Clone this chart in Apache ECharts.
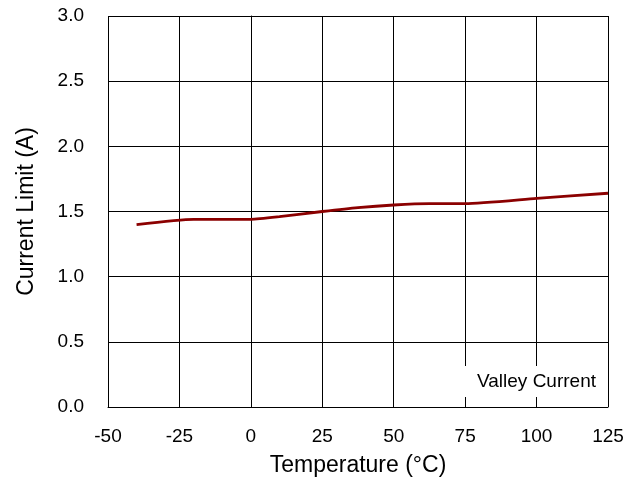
<!DOCTYPE html>
<html>
<head>
<meta charset="utf-8">
<script src="https://cdn.jsdelivr.net/npm/echarts@6/dist/echarts.min.js"></script>
<style>html,body{margin:0;padding:0;background:#fff}#c{width:642px;height:486px}</style>
</head>
<body>
<div id="c"></div>
<script>
const temperatures = [-40, -20, 0, 10, 25, 37.5, 50, 62.5, 75, 100, 125];
const valleyCurrent = [1.40, 1.44, 1.44, 1.46, 1.50, 1.53, 1.55, 1.56, 1.56, 1.60, 1.64];
const seriesName = 'Valley Current';
const xTitle = 'Temperature (°C)';
const yTitle = 'Current Limit (A)';

const font = 'Arial, "Liberation Sans", sans-serif';
const chart = echarts.init(document.getElementById('c'));
chart.setOption({
  animation: false,
  backgroundColor: '#fff',
  grid: { left: 108, right: 34, top: 16, bottom: 79 },
  legend: {
    data: [seriesName],
    right: 34, bottom: 89,
    icon: 'none', itemWidth: 0, itemHeight: 0, itemGap: 0,
    padding: [6, 12, 6, 12],
    backgroundColor: '#fff',
    textStyle: { color: '#000', fontSize: 19, fontFamily: font }
  },
  xAxis: {
    type: 'value', min: -50, max: 125, interval: 25,
    name: xTitle, nameLocation: 'middle', nameGap: 47,
    nameTextStyle: { color: '#000', fontSize: 23, fontFamily: font },
    axisLine: { show: true, lineStyle: { color: '#000', width: 1 } },
    axisTick: { show: false },
    axisLabel: { color: '#000', fontSize: 19, fontFamily: font, margin: 20 },
    splitLine: { show: true, lineStyle: { color: '#000', width: 1 } }
  },
  yAxis: {
    type: 'value', min: 0, max: 3, interval: 0.5,
    name: yTitle, nameLocation: 'middle', nameGap: 70,
    nameTextStyle: { color: '#000', fontSize: 23, fontFamily: font },
    axisLine: { show: true, lineStyle: { color: '#000', width: 1 } },
    axisTick: { show: false },
    axisLabel: { color: '#000', fontSize: 19, fontFamily: font, margin: 24,
      formatter: v => v.toFixed(1) },
    splitLine: { show: true, lineStyle: { color: '#000', width: 1 } }
  },
  series: [{
    name: seriesName,
    type: 'line',
    data: temperatures.map((t, i) => [t, valleyCurrent[i]]),
    showSymbol: false,
    smooth: 0.2,
    lineStyle: { color: '#8b0000', width: 2.8 },
    itemStyle: { color: '#8b0000' }
  }]
});
</script>
</body>
</html>
